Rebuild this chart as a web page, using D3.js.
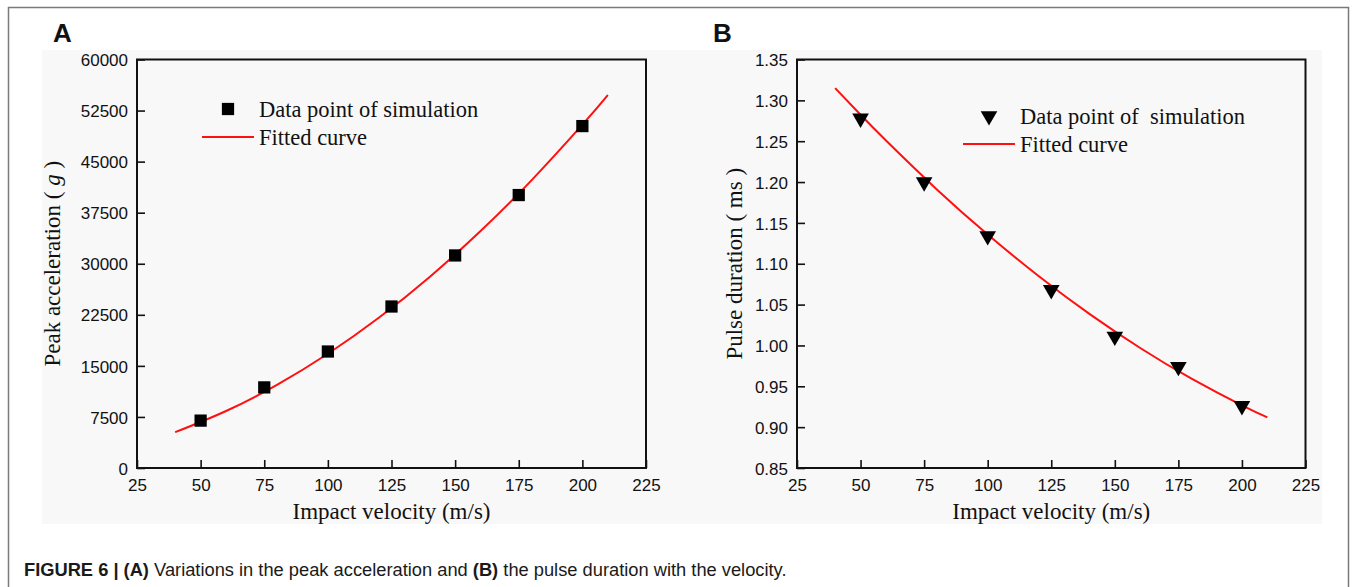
<!DOCTYPE html>
<html>
<head>
<meta charset="utf-8">
<script src="https://cdn.jsdelivr.net/npm/d3@7"></script>
<style>
  html, body { margin: 0; padding: 0; background: #ffffff; }
  svg { display: block; }
</style>
</head>
<body>
<svg id="fig" width="1356" height="587"></svg>
<script>
// Impact velocity (m/s) of the simulation runs
const velocities = [50, 75, 100, 125, 150, 175, 200];

// Panel A: peak acceleration (g) of each simulation run
const peakAccel = [6960, 11840, 17110, 23720, 31220, 40090, 50220];
// Panel A: fitted curve, sampled along velocity
const fitVelA = [40, 60, 80, 100, 120, 140, 160, 180, 200, 210];
const fitAccel = [5255, 8373, 12213, 16776, 22061, 28069, 34799, 42251, 50426, 54784];

// Panel B: pulse duration (ms) of each simulation run
const pulseDur = [1.278, 1.200, 1.134, 1.068, 1.011, 0.974, 0.926];
// Panel B: fitted curve, sampled along velocity
const fitVelB = [40, 50, 60, 80, 100, 120, 140, 160, 180, 200, 210];
const fitDur = [1.315, 1.2823, 1.2508, 1.1910, 1.1358, 1.0850, 1.0387, 0.9969, 0.9596, 0.9267, 0.912];

// Axis ticks
const xTicks = [25, 50, 75, 100, 125, 150, 175, 200, 225];
const yTicksA = [0, 7500, 15000, 22500, 30000, 37500, 45000, 52500, 60000];
const yTicksB = [0.85, 0.90, 0.95, 1.00, 1.05, 1.10, 1.15, 1.20, 1.25, 1.30, 1.35];

const svg = d3.select("#fig");
const SANS = "'Liberation Sans', Arial, Helvetica, sans-serif";
const SERIF = "'Liberation Serif', 'Times New Roman', Times, serif";

// outer frame of the figure
svg.append("path")
  .attr("d", "M8.5,587 L8.5,7.5 L1348.5,7.5 L1348.5,587")
  .attr("fill", "none").attr("stroke", "#7a7a7a").attr("stroke-width", 1.5);

// light backdrop behind both panels
svg.append("rect")
  .attr("x", 42).attr("y", 50).attr("width", 1280).attr("height", 474)
  .attr("fill", "#f8f8f8");

function panel(opts) {
  const g = svg.append("g");
  const x = d3.scaleLinear().domain([25, 225]).range([opts.left, opts.right]);
  const y = d3.scaleLinear().domain(opts.yDomain).range([opts.bottom, opts.top]);

  // y axis: ticks point inward
  const yAxis = g.append("g")
    .attr("transform", `translate(${opts.left},0)`)
    .call(d3.axisRight(y).tickValues(opts.yTicks).tickSize(8).tickFormat(opts.yFormat));
  yAxis.select(".domain").remove();
  yAxis.selectAll(".tick line").attr("stroke", "#111").attr("stroke-width", 1.6);
  yAxis.selectAll(".tick text")
    .attr("x", -9).attr("text-anchor", "end").attr("dy", "0.36em")
    .attr("font-family", SANS).attr("font-size", 17).attr("fill", "#111");

  // x axis: ticks point inward
  const xAxis = g.append("g")
    .attr("transform", `translate(0,${opts.bottom})`)
    .call(d3.axisTop(x).tickValues(xTicks).tickSize(8).tickFormat(d3.format("d")));
  xAxis.select(".domain").remove();
  xAxis.selectAll(".tick line").attr("stroke", "#111").attr("stroke-width", 1.6);
  xAxis.selectAll(".tick text")
    .attr("y", 23).attr("dy", 0).attr("text-anchor", "middle")
    .attr("font-family", SANS).attr("font-size", 17).attr("fill", "#111");

  // plot frame
  g.append("rect")
    .attr("x", opts.left).attr("y", opts.top)
    .attr("width", opts.right - opts.left).attr("height", opts.bottom - opts.top)
    .attr("fill", "none").attr("stroke", "#111").attr("stroke-width", 2);

  // fitted curve
  const line = d3.line().x(d => x(d[0])).y(d => y(d[1])).curve(d3.curveNatural);
  g.append("path")
    .datum(opts.fitX.map((v, i) => [v, opts.fitY[i]]))
    .attr("d", line)
    .attr("fill", "none").attr("stroke", "#ff1010").attr("stroke-width", 2);

  // simulation points
  const sym = d3.symbol().type(opts.symbol).size(opts.symbolSize);
  g.selectAll("path.pt")
    .data(velocities.map((v, i) => [v, opts.values[i]]))
    .join("path").attr("class", "pt")
    .attr("transform", d => `translate(${x(d[0])},${y(d[1])})${opts.symbolRot}`)
    .attr("d", sym).attr("fill", "#000");

  // legend
  const lg = g.append("g");
  lg.append("path")
    .attr("transform", `translate(${opts.legX + 26},${opts.legY})${opts.symbolRot}`)
    .attr("d", sym).attr("fill", "#000");
  lg.append("text")
    .attr("x", opts.legX + 57).attr("y", opts.legY + 8)
    .attr("font-family", SERIF).attr("font-size", 22.5).attr("fill", "#111")
    .attr("xml:space", "preserve")
    .text(opts.legText);
  lg.append("line")
    .attr("x1", opts.legX).attr("x2", opts.legX + 52)
    .attr("y1", opts.legY + 28).attr("y2", opts.legY + 28)
    .attr("stroke", "#ff1010").attr("stroke-width", 2);
  lg.append("text")
    .attr("x", opts.legX + 57).attr("y", opts.legY + 36)
    .attr("font-family", SERIF).attr("font-size", 22.5).attr("fill", "#111")
    .text("Fitted curve");

  // axis titles
  g.append("text")
    .attr("x", (opts.left + opts.right) / 2).attr("y", 519)
    .attr("text-anchor", "middle")
    .attr("font-family", SERIF).attr("font-size", 23).attr("fill", "#111")
    .text("Impact velocity (m/s)");

  const yt = g.append("text")
    .attr("transform", `translate(${opts.yTitleX},${(opts.top + opts.bottom) / 2}) rotate(-90)`)
    .attr("text-anchor", "middle")
    .attr("font-family", SERIF).attr("font-size", 23).attr("fill", "#111");
  opts.yTitle.forEach(part => {
    yt.append("tspan").attr("font-style", part.italic ? "italic" : "normal")
      .attr("xml:space", "preserve").text(part.t);
  });

  // panel letter
  g.append("text")
    .attr("x", opts.letterX).attr("y", 42)
    .attr("font-family", SANS).attr("font-weight", "bold").attr("font-size", 26)
    .attr("fill", "#111")
    .text(opts.letter);
}

panel({
  letter: "A", letterX: 53,
  left: 137, right: 646, top: 59.5, bottom: 468,
  yDomain: [0, 60000], yTicks: yTicksA, yFormat: d3.format("d"),
  values: peakAccel, fitX: fitVelA, fitY: fitAccel,
  symbol: d3.symbolSquare, symbolSize: 150, symbolRot: "",
  legX: 202, legY: 109, legText: "Data point of simulation",
  yTitleX: 60,
  yTitle: [{ t: "Peak acceleration ( " }, { t: "g", italic: true }, { t: " )" }]
});

panel({
  letter: "B", letterX: 713,
  left: 797, right: 1305.5, top: 59.5, bottom: 468,
  yDomain: [0.85, 1.35], yTicks: yTicksB, yFormat: d3.format(".2f"),
  values: pulseDur, fitX: fitVelB, fitY: fitDur,
  symbol: d3.symbolTriangle, symbolSize: 120, symbolRot: " rotate(180)",
  legX: 963, legY: 116, legText: "Data point of  simulation",
  yTitleX: 742,
  yTitle: [{ t: "Pulse duration ( ms )" }]
});

// caption
const cap = svg.append("text")
  .attr("x", 24).attr("y", 576)
  .attr("font-family", SANS).attr("font-size", 18.3).attr("fill", "#1a1a1a")
  .attr("xml:space", "preserve");
cap.append("tspan").attr("font-weight", "bold").text("FIGURE 6 | (A)");
cap.append("tspan").text(" Variations in the peak acceleration and ");
cap.append("tspan").attr("font-weight", "bold").text("(B)");
cap.append("tspan").text(" the pulse duration with the velocity.");
</script>
</body>
</html>
